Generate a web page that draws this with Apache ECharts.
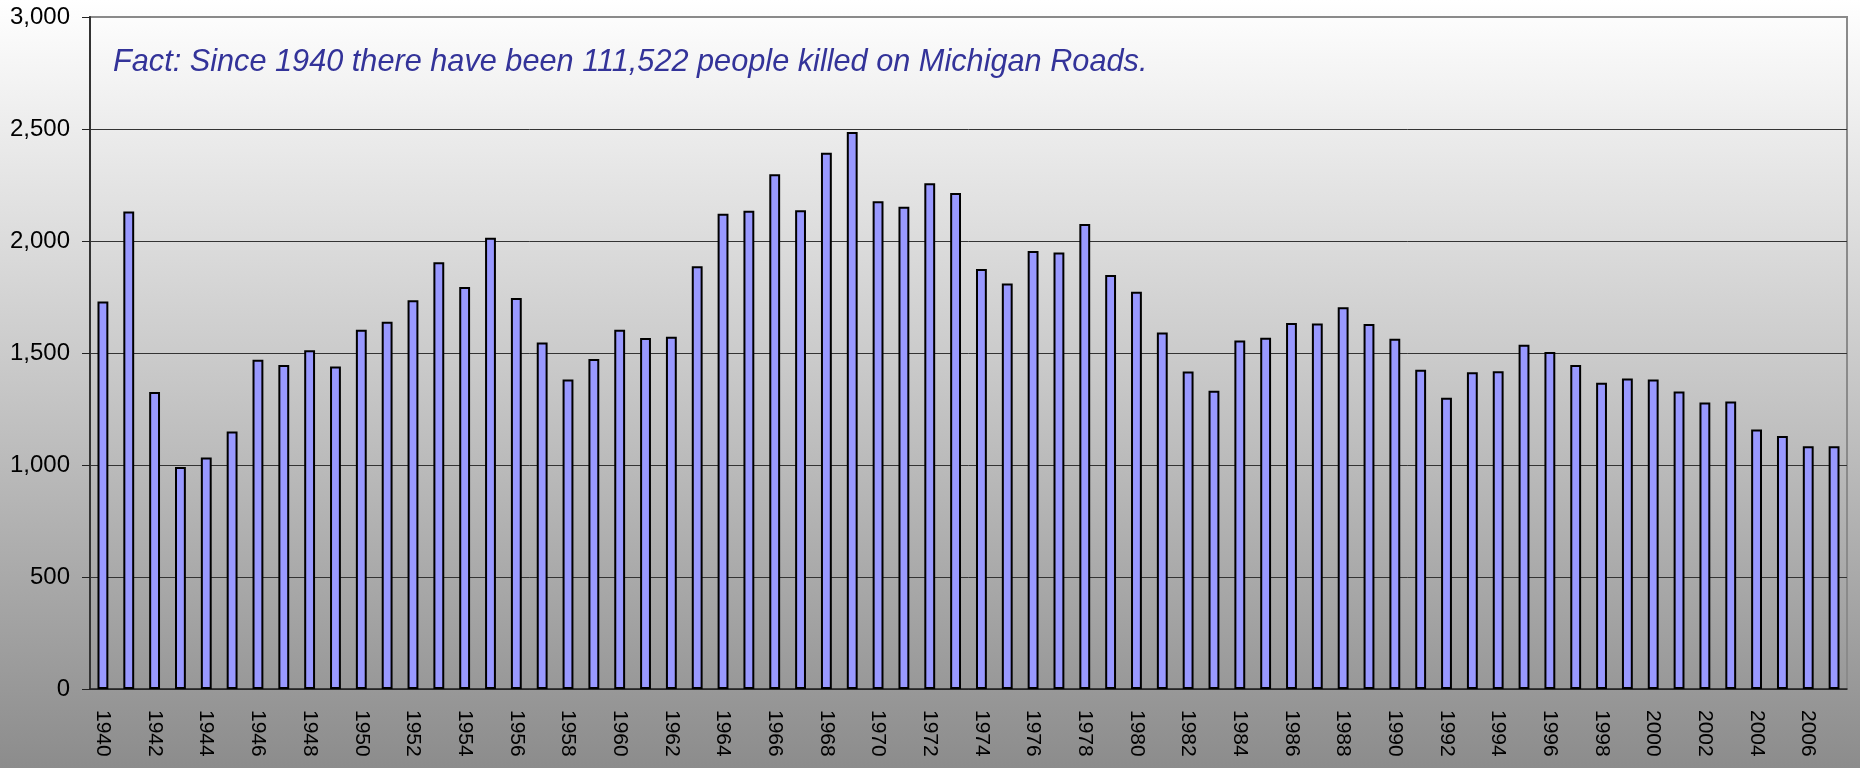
<!DOCTYPE html>
<html>
<head>
<meta charset="utf-8">
<title>Michigan traffic fatalities</title>
<script src="https://cdn.jsdelivr.net/npm/echarts@6/dist/echarts.min.js"></script>
<style>
	html, body { margin: 0; padding: 0; }
	#chart {
		width: 1860px;
		height: 768px;
		background: linear-gradient(to bottom, #ffffff 0%, #c9c9c9 48%, #8c8c8c 100%);
	}
</style>
</head>
<body>
<div id="chart"></div>
<script>
	// deaths per year
	var years = []
	for (var y = 1940; y <= 2007; y++) {
		years.push(String(y))
	}
	var deaths = [
		1730, 2132, 1326, 991, 1033, 1150, 1470, 1446, 1512, 1440,
		1604, 1640, 1735, 1905, 1795, 2015, 1745, 1547, 1382, 1473,
		1604, 1567, 1573, 1887, 2122, 2135, 2298, 2137, 2394, 2487,
		2177, 2153, 2258, 2214, 1875, 1810, 1955, 1949, 2076, 1848,
		1773, 1592, 1417, 1332, 1556, 1568, 1634, 1632, 1704, 1629,
		1564, 1425, 1300, 1414, 1419, 1537, 1505, 1446, 1367, 1386,
		1382, 1328, 1279, 1283, 1159, 1129, 1084, 1084
	]
	var yTicks = [0, 500, 1000, 1500, 2000, 2500, 3000]
	var note = 'Fact: Since 1940 there have been 111,522 people killed on Michigan Roads.'

	// dark gridlines, the top one stays the frame's grey
	var gridColors = yTicks.map(function (v, i) {
		return i === yTicks.length - 1 ? '#8a8a8a' : '#333'
	})

	var chart = echarts.init(document.getElementById('chart'))
	var option = {
		backgroundColor: 'transparent',
		animation: false,
		textStyle: {
			fontFamily: 'Liberation Sans'
		},
		title: {
			text: note,
			left: 108,
			top: 42,
			textStyle: {
				fontSize: 30.7,
				fontStyle: 'italic',
				fontWeight: 'normal',
				color: '#333399',
				fontFamily: 'Liberation Sans'
			}
		},
		grid: {
			left: 90,
			right: 13,
			top: 17,
			bottom: 79,
			show: true,
			borderColor: '#8a8a8a',
			borderWidth: 2,
			backgroundColor: 'transparent'
		},
		xAxis: {
			type: 'category',
			data: years,
			boundaryGap: true,
			axisLine: {
				lineStyle: { color: '#222', width: 1.5 }
			},
			axisTick: {
				interval: 0,
				length: 6,
				lineStyle: { color: '#222' }
			},
			axisLabel: {
				interval: 1,
				rotate: -90,
				margin: 21,
				fontSize: 21,
				color: '#000'
			}
		},
		yAxis: {
			type: 'value',
			min: yTicks[0],
			max: yTicks[yTicks.length - 1],
			interval: 500,
			axisLine: {
				show: true,
				lineStyle: { color: '#333', width: 2 }
			},
			axisTick: {
				show: true,
				length: 8,
				lineStyle: { color: '#222' }
			},
			axisLabel: {
				margin: 20,
				fontSize: 24,
				color: '#000',
				formatter: function (v) {
					return v.toLocaleString('en-US')
				}
			},
			splitLine: {
				lineStyle: { color: gridColors, width: 1 }
			}
		},
		series: [{
			type: 'bar',
			data: deaths,
			barWidth: '42%',
			itemStyle: {
				color: '#9999ff',
				borderColor: '#000',
				borderWidth: 2
			}
		}]
	}
	chart.setOption(option)
</script>
</body>
</html>
